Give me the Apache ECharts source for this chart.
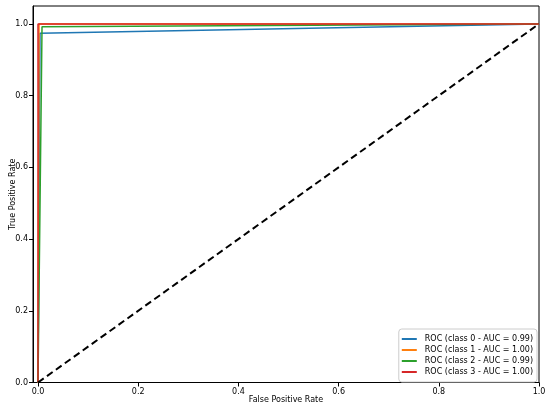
<!DOCTYPE html>
<html>
<head>
<meta charset="utf-8">
<script src="https://cdn.jsdelivr.net/npm/echarts@6/dist/echarts.min.js"></script>
<style>
html,body{margin:0;padding:0;background:#fff;}
#chart{width:550px;height:410px;}
</style>
</head>
<body>
<div id="chart"></div>
<script>
// ROC curve data
const classNames = ['ROC (class 0 - AUC = 0.99)', 'ROC (class 1 - AUC = 1.00)', 'ROC (class 2 - AUC = 0.99)', 'ROC (class 3 - AUC = 1.00)'];
const fprClass0 = [0, 0.004, 1];
const tprClass0 = [0, 0.974, 1];
const fprClass1 = [0, 0.002, 1];
const tprClass1 = [0, 1.0, 1];
const fprClass2 = [0, 0.008, 1];
const tprClass2 = [0, 0.992, 1];
const fprClass3 = [0, 0, 1];
const tprClass3 = [0, 1.0, 1];
const diagX = [0, 1];
const diagY = [0, 1];
const tickValues = [0, 0.2, 0.4, 0.6, 0.8, 1.0];
const colors = ['#1f77b4', '#ff7f0e', '#2ca02c', '#d62728'];

function pairs(xs, ys) { return xs.map((x, i) => [x, ys[i]]); }
const curves = [
  pairs(fprClass0, tprClass0),
  pairs(fprClass1, tprClass1),
  pairs(fprClass2, tprClass2),
  pairs(fprClass3, tprClass3)
];

const font = 'DejaVu Sans';
const chart = echarts.init(document.getElementById('chart'), null, {renderer: 'canvas'});

const axisCommon = {
  type: 'value',
  axisLine: {show: true, onZero: false, lineStyle: {color: '#000', width: 1}},
  axisTick: {show: true, inside: false, length: 4, customValues: tickValues, lineStyle: {color: '#000'}},
  axisLabel: {customValues: tickValues, fontFamily: font, fontSize: 8, color: '#000', margin: 5,
              formatter: v => v.toFixed(1)},
  splitLine: {show: false},
  nameLocation: 'middle',
  nameMoveOverlap: false,
  nameTextStyle: {fontFamily: font, fontSize: 8, color: '#000'}
};

const series = curves.map((d, i) => ({
  name: classNames[i],
  type: 'line',
  data: d,
  showSymbol: false,
  symbol: 'none',
  lineStyle: {color: colors[i], width: 1.5},
  itemStyle: {color: colors[i]},
  z: 2 + i,
  animation: false
}));
series.push({
  name: 'diag',
  type: 'line',
  data: pairs(diagX, diagY),
  symbol: 'none',
  lineStyle: {color: '#000', width: 2, type: [7, 4]},
  z: 10,
  animation: false
});

chart.setOption({
  animation: false,
  backgroundColor: '#fff',
  grid: {left: 33, right: 11, top: 6, bottom: 27.5, show: true, borderColor: '#000', borderWidth: 1,
         containLabel: false, outerBoundsMode: 'none'},
  xAxis: Object.assign({}, axisCommon, {min: -0.01, max: 1, name: 'False Positive Rate', nameGap: 13}),
  yAxis: Object.assign({}, axisCommon, {min: 0, max: 1.05, name: 'True Positive Rate', nameGap: 16}),
  legend: {
    data: classNames,
    orient: 'vertical',
    right: 13,
    bottom: 28,
    icon: 'rect',
    itemWidth: 15,
    itemHeight: 2,
    itemGap: 1,
    padding: [5, 4, 5, 3],
    backgroundColor: '#fff',
    borderColor: '#ccc',
    borderWidth: 1,
    borderRadius: 3,
    textStyle: {fontFamily: font, fontSize: 8, color: '#000', lineHeight: 10, padding: [0, 0, 0, 3]}
  },
  series: series
});
</script>
</body>
</html>
